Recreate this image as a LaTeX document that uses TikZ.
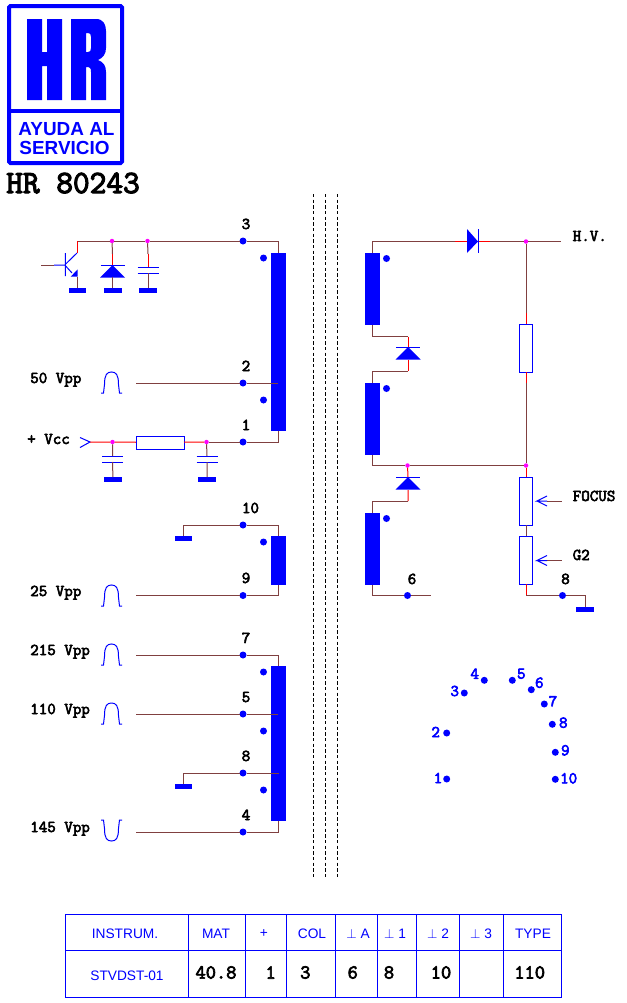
\documentclass[tikz,border=0pt]{standalone}
\usepackage{fontspec}
\setmainfont{Liberation Sans}
\newfontfamily\labelfont[FakeBold=3.5]{Latin Modern Mono}
\usetikzlibrary{positioning,calc}

\definecolor{wirebrown}{RGB}{128,64,64}
\definecolor{junctmag}{RGB}{255,0,255}
\newcommand{\pxu}{0.75pt}

\tikzset{
    wire/.style={draw=wirebrown, line width=\pxu},
    stub/.style={draw=red, line width=\pxu},
    blueline/.style={draw=blue, line width=\pxu},
    coil/.style={rectangle, fill=blue, inner sep=0pt, outer sep=0pt, minimum width=15*\pxu},
    res/.style={rectangle, draw=blue, line width=\pxu, fill=white, inner sep=0pt, outer sep=0pt},
    resh/.style={res, minimum width=48*\pxu, minimum height=13*\pxu},
    resv/.style={res, minimum width=13*\pxu, minimum height=48*\pxu},
    gnd/.style={rectangle, fill=blue, inner sep=0pt, outer sep=0pt, minimum width=18*\pxu, minimum height=5*\pxu},
    pinpt/.style={circle, fill=blue, inner sep=0pt, outer sep=0pt, minimum size=7*\pxu},
    junct/.style={circle, fill=junctmag, inner sep=0pt, outer sep=0pt, minimum size=4.5*\pxu},
    monolabel/.style={inner sep=0pt, font=\labelfont\fontsize{12.4pt}{14pt}\selectfont},
    conlabel/.style={monolabel, text=blue},
    tabhead/.style={inner sep=0pt, text=blue, font=\fontsize{10.3pt}{12pt}\selectfont},
    tabval/.style={inner sep=0pt, font=\labelfont\fontsize{14.9pt}{17pt}\selectfont},
    diodev/.pic={
        \draw[blueline] (-12,0) -- (12,0);
        \fill[blue] (0,0) -- (12.5,12.5) -- (-12.5,12.5) -- cycle;
    },
    capv/.pic={
        \draw[blueline] (-10.5,0) -- (10.5,0) (-10.5,6) -- (10.5,6);
    },
    pulse/.pic={
        \draw[blueline] (-10.5,10.5) -- (-8,10.5) -- (-7,2) .. controls (-7,-8) and (-4.5,-10.5) .. (0,-10.5)
            .. controls (4.5,-10.5) and (7,-8) .. (7,2) -- (8,10.5) -- (10.5,10.5);
    },
    wiper/.pic={
        \draw[blueline] (10,0) -- (0,0) -- (10,-5) (0,0) -- (10,5);
    }
}

\begin{document}
\begin{tikzpicture}[x=\pxu, y=-\pxu]
    \useasboundingbox (0,0) rectangle (626,1003);

    % Logo
    \draw[blue, line width=3pt, rounded corners=1pt] (9,6) rectangle (122,163);
    \draw[blue, line width=2.6pt] (9,111) -- (122,111);
    \fill[blue] (27,19) -- (42,19) -- (42,52) -- (47,52) -- (47,19) -- (62,19) -- (62,100) -- (47,100)
        -- (47,66) -- (42,66) -- (42,100) -- (27,100) -- cycle;
    \fill[blue, even odd rule] (71,19) -- (96,19) .. controls (103,19) and (106,24) .. (106,31) -- (106,48)
        .. controls (106,54) and (103,58) .. (98,60) .. controls (103,62) and (106,65) .. (106,72) -- (106,100)
        -- (91,100) -- (91,72) .. controls (91,68) and (90,67) .. (86,67) -- (86,100) -- (71,100) -- cycle
        (86,33) -- (86,52) -- (88,52) .. controls (90,52) and (91,51) .. (91,48) -- (91,37) .. controls (91,34) and (90,33) .. (88,33) -- cycle;
    \node[inner sep=0pt, text=blue, font=\bfseries\fontsize{14.2pt}{16pt}\selectfont] (logo_a) at (66.5,129.5) {AYUDA AL};
    \node[inner sep=0pt, text=blue, font=\bfseries\fontsize{14.2pt}{16pt}\selectfont] (logo_b) at (64.5,147.5) {SERVICIO};
    \node[anchor=base west, inner sep=0pt, font=\labelfont\fontsize{24.3pt}{27pt}\selectfont] (title) at (6,193) {HR 80243};

    % Core
    \foreach \xc in {313,325,337}
        \draw[black, line width=\pxu, dash pattern=on 2.5pt off 1.75pt] (\xc,194) -- (\xc,878);

    % Primary winding
    \node[coil, minimum height=178*\pxu] (coil_a) at (278.5,342) {};
    \node[pinpt] (pin3) at (243,241) {};
    \node[pinpt] (pin2) at (243,383) {};
    \node[pinpt] (pin1) at (243,442) {};
    \node[junct] (jd) at (112,241) {};
    \node[junct] (jc) at (147.5,241) {};
    \node[pinpt] (dot_a) at (263.5,258) {};
    \node[pinpt] (dot_b) at (263.5,400) {};
    \coordinate (qc) at (77,241);
    \coordinate (q2) at (77,253);
    \coordinate (tap2) at (278,383);
    \coordinate (in2) at (136,383);

    \draw[wire] (qc) -- (jd) -- (jc) -- (pin3) -| (coil_a.north);
    \draw[stub] (qc) -- (q2);
    \draw[wire] (in2) -- (pin2) -- (tap2);

    % Transistor
    \coordinate (qb) at (41,265);
    \coordinate (qm) at (54,265);
    \coordinate (qn) at (65.3,265);
    \node[gnd, minimum width=17*\pxu] (gnd_q) at (77.5,290.5) {};
    \draw[wire] (qb) -- (qm);
    \draw[blueline] (qm) -- (qn) (65.3,253) -- (65.3,276) (65.7,264) -- (q2) (65.7,266) -- (72,273);
    \fill[blue] (77.7,269.3) -- (77.7,276.7) -- (70.7,276.7) -- cycle;
    \draw[wire] (77.5,276.7) -- (gnd_q);

    % Damper diode and capacitor
    \node[gnd] (gnd_d) at (112.5,290.5) {};
    \node[gnd] (gnd_c) at (148,290.5) {};
    \pic at (112.5,265) {diodev};
    \pic at (148,267) {capv};
    \draw[wire] (jd) -- (112.5,254);
    \draw[stub] (112.5,254) -- (112.5,265);
    \draw[wire] (112.5,277) -- (gnd_d);
    \draw[wire] (jc) -- (148,254);
    \draw[stub] (148,254) -- (148,267);
    \draw[wire] (148,273) -- (gnd_c);

    % Supply
    \node[resh] (res_a) at (160,442.5) {};
    \node[junct] (jv) at (112.5,442) {};
    \node[junct] (jw) at (206.5,442) {};
    \coordinate (vin) at (90,442);
    \node[gnd] (gnd_e) at (113,479.5) {};
    \node[gnd] (gnd_f) at (207,479.5) {};
    \pic at (112.5,456) {capv};
    \pic at (207,456) {capv};
    \draw[blueline] (80,437.5) -- (vin) -- (80,447.5);
    \draw[stub] (vin) -- (jv) -- (res_a);
    \draw[stub] (res_a) -- (jw);
    \draw[wire] (jw) -- (pin1) -| (coil_a.south);
    \draw[wire] (jv) -- (112.5,456) (112.5,462) -- (gnd_e);
    \draw[wire] (jw) -- (207,456) (207,462) -- (gnd_f);

    % Winding 10-9
    \node[coil, minimum height=49*\pxu] (coil_b) at (278.5,560.5) {};
    \node[pinpt] (pin10) at (243,525) {};
    \node[pinpt] (pin9) at (243,595.5) {};
    \node[pinpt] (dot_c) at (263.5,542) {};
    \node[gnd, minimum width=17*\pxu] (gnd_g) at (183.5,538.5) {};
    \coordinate (in9) at (136,595.5);
    \draw[wire] (gnd_g) |- (pin10) -| (coil_b.north);
    \draw[wire] (in9) -- (pin9) -| (coil_b.south);

    % Winding 7-4
    \node[coil, minimum height=155*\pxu] (coil_c) at (278.5,743.5) {};
    \node[pinpt] (pin7) at (243,655) {};
    \node[pinpt] (pin5) at (243,714) {};
    \node[pinpt] (pin8) at (243,773) {};
    \node[pinpt] (pin4) at (243,832) {};
    \node[pinpt] (dot_d) at (263.5,672) {};
    \node[pinpt] (dot_e) at (263.5,731) {};
    \node[pinpt] (dot_f) at (263.5,790) {};
    \node[gnd, minimum width=17*\pxu] (gnd_h) at (183.5,786.5) {};
    \coordinate (in7) at (136,655);
    \coordinate (in5) at (136,714);
    \coordinate (in4) at (136,832);
    \coordinate (tap5) at (278,714);
    \coordinate (tap8) at (278.5,773);
    \draw[wire] (in7) -- (pin7) -| (coil_c.north);
    \draw[wire] (in5) -- (pin5) -- (tap5);
    \draw[wire] (gnd_h) |- (pin8) -- (tap8);
    \draw[wire] (in4) -- (pin4) -| (coil_c.south);

    % Drive pulses
    \pic at (111.5,382.5) {pulse};
    \pic at (111.5,595.5) {pulse};
    \pic at (111.5,654.5) {pulse};
    \pic at (111.5,713.5) {pulse};
    \pic[yscale=-1] at (111.5,830.5) {pulse};

    % Left labels
    \foreach \nm/\xc/\yc/\txt in {l50/30/383/50 Vpp, lvcc/27/444/+ Vcc, l25/30/596/25 Vpp,
        l215/30/655/215 Vpp, l110/30/714/110 Vpp, l145/30/832/145 Vpp}
        \node[monolabel, anchor=base west] (\nm) at (\xc,\yc) {\txt};

    % Pin numbers
    \foreach \nm/\xc/\yc/\txt in {n3/246/229/3, n2/246/371/2, n1/246/430/1, n10/250.5/513/10, n9/246/583/9,
        n7/246/643/7, n5/246/702/5, n8/246/761/8, n4/246/820/4, n6/412/584/6, n8b/565.5/584/8}
        \node[monolabel, anchor=base] (\nm) at (\xc,\yc) {\txt};

    % Secondary windings
    \node[coil, minimum height=72*\pxu] (coil_d) at (372.5,289) {};
    \node[coil, minimum height=72*\pxu] (coil_e) at (372.5,419) {};
    \node[coil, minimum height=72*\pxu] (coil_f) at (372.5,549) {};
    \node[pinpt] (dot_g) at (386.5,258.5) {};
    \node[pinpt] (dot_h) at (386.5,388.5) {};
    \node[pinpt] (dot_i) at (386.5,518.5) {};
    \node[pinpt] (pin6) at (407.5,595.5) {};
    \coordinate (out6) at (431,595.5);
    \draw[wire] (coil_f.south) |- (pin6) -- (out6);

    % Rectifier diodes
    \coordinate (da) at (408,336.5);
    \coordinate (db) at (408,347);
    \coordinate (dc) at (408,359.5);
    \coordinate (dd) at (408,371);
    \pic at (408,347) {diodev};
    \draw[wire] (coil_d.south) |- (da);
    \draw[stub] (da) -- (db) (dc) -- (dd);
    \draw[wire] (dd) -| (coil_e.north);

    \node[junct] (jf) at (407.5,465.5) {};
    \node[junct] (jg) at (526,465.5) {};
    \coordinate (de) at (408,477);
    \coordinate (df) at (408,490);
    \coordinate (dg) at (408,501);
    \pic at (408,477) {diodev};
    \draw[wire] (coil_e.south) |- (jf) -- (jg);
    \draw[stub] (jf) -- (de) (df) -- (dg);
    \draw[wire] (dg) -| (coil_f.north);

    % H.V. diode
    \coordinate (ta) at (455,241.5);
    \coordinate (tb) at (467,241.5);
    \coordinate (tc) at (478,241.5);
    \coordinate (td) at (490,241.5);
    \coordinate (hv) at (561,241.5);
    \node[junct] (jh) at (526,241.5) {};
    \draw[wire] (coil_d.north) |- (ta);
    \draw[stub] (ta) -- (tb) (tc) -- (td);
    \draw[wire] (td) -- (jh) -- (hv);
    \fill[blue] (467,229) -- (478,241.5) -- (467,253) -- cycle;
    \draw[blueline] (478,229) -- (478,253);

    % Divider
    \node[resv] (res_b) at (526,348) {};
    \node[resv] (res_c) at (526,501) {};
    \node[resv] (res_d) at (526,560) {};
    \coordinate (ra) at (526,313);
    \coordinate (rb) at (526,383);
    \coordinate (rc) at (526,595.5);
    \node[pinpt] (pin8b) at (562.5,595.5) {};
    \node[gnd] (gnd_i) at (585,609.5) {};
    \draw[wire] (jh) -- (ra);
    \draw[stub] (ra) -- (res_b) (res_b) -- (rb) (jg) -- (res_c) (res_d) -- (rc);
    \draw[wire] (rb) -- (jg) (res_c) -- (res_d);
    \draw[wire] (rc) -- (pin8b) -| (gnd_i);

    % Wipers
    \coordinate (fo) at (561.5,501);
    \coordinate (fa) at (547,501);
    \coordinate (go) at (561.5,560.5);
    \coordinate (ga) at (547,560.5);
    \draw[wire] (fo) -- (fa);
    \draw[wire] (go) -- (ga);
    \pic at (537,501) {wiper};
    \pic at (537,560.5) {wiper};
    \foreach \nm/\yc/\txt in {lhv/241/H.V., lfocus/501/FOCUS, lg2/560/G2}
        \node[monolabel, anchor=base west] (\nm) at (572.5,\yc) {\txt};

    % Socket
    \foreach \nm/\xc/\yc in {s1/446.7/779, s2/446.7/733, s3/464.3/693, s4/484.3/680.3, s5/512.3/680.3,
        s6/531.3/689.7, s7/544.3/704, s8/552.3/724.3, s9/555.3/752.3, s10/555.3/779.3}
        \node[pinpt] (\nm) at (\xc,\yc) {};
    \foreach \nm/\xc/\yc/\txt in {t1/438/778/1, t2/435.7/732/2, t3/454.7/691/3, t4/474.7/673.7/4, t5/521.3/673.7/5,
        t6/539.3/682.7/6, t7/553/701.3/7, t8/563.3/722.7/8, t9/565.3/750.3/9, t10/568.7/778.3/10}
        \node[conlabel] (\nm) at (\xc,\yc) {\txt};

    % Table
    \draw[blueline] (65.5,914.5) rectangle (561.5,997.5) (65.5,950.5) -- (561.5,950.5);
    \foreach \xc in {188.5,245.5,286.5,335.5,377.5,416.5,459.5,503.5}
        \draw[blueline] (\xc,914.5) -- (\xc,997.5);
    \foreach \nm/\xc/\txt in {h1/125/INSTRUM., h2/216/MAT, h3/264/+, h4/312/COL, h5/358/$\perp$ A,
        h6/395/$\perp$ 1, h7/438/$\perp$ 2, h8/481/$\perp$ 3, h9/533/TYPE}
        \node[tabhead] (\nm) at (\xc,934) {\txt};
    \node[tabhead] (h10) at (127,976) {STVDST-01};
    \foreach \nm/\xc/\txt in {v1/216/40.8, v2/270.7/1, v3/305.3/3, v4/352.7/6, v5/389/8, v6/441/10, v7/529.7/110}
        \node[tabval] (\nm) at (\xc,972.5) {\txt};
\end{tikzpicture}
\end{document}
